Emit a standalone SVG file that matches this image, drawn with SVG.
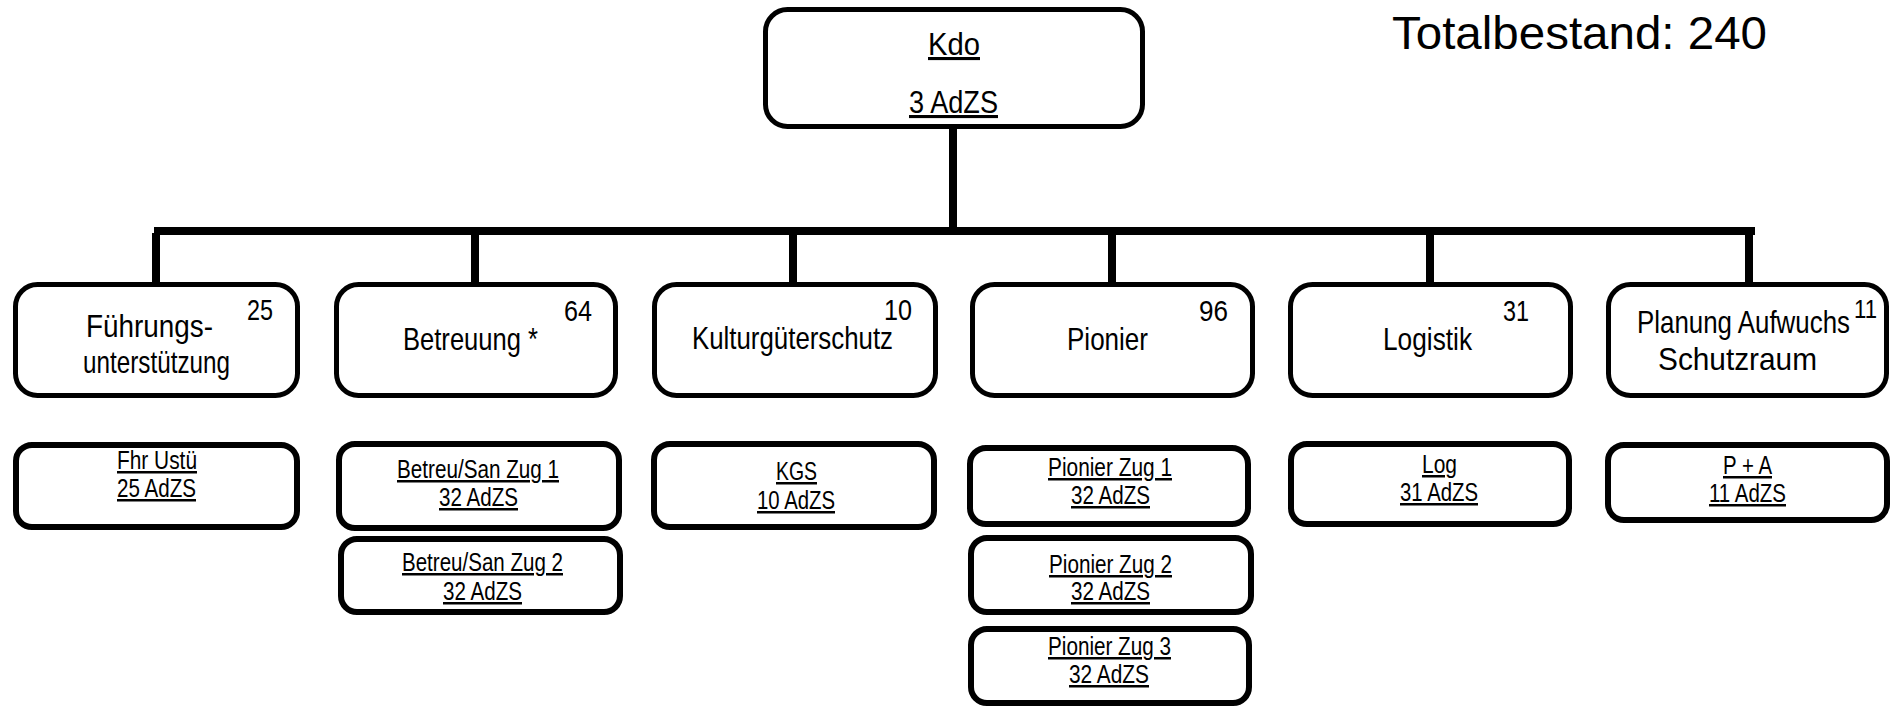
<svg xmlns="http://www.w3.org/2000/svg" width="1894" height="708" viewBox="0 0 1894 708">
<style>
.top{fill:#fff;stroke:#000;stroke-width:5}
.sub{fill:#fff;stroke:#000;stroke-width:6}
text{font-family:"Liberation Sans",Arial,sans-serif;fill:#000}
.t{font-size:32px;text-anchor:middle}
.n{font-size:30px}
.s{font-size:25px;text-anchor:middle;text-decoration:underline}
.k{font-size:31px;text-anchor:middle;text-decoration:underline}
</style>
<rect width="1894" height="708" fill="#fff"/>
<g id="connectors" fill="#000">
<rect x="949" y="128" width="8" height="101"/>
<rect x="154" y="227" width="1601" height="8"/>
<rect x="152" y="233" width="8" height="51"/>
<rect x="471" y="233" width="8" height="51"/>
<rect x="789" y="233" width="8" height="51"/>
<rect x="1108" y="233" width="8" height="51"/>
<rect x="1426" y="233" width="8" height="51"/>
<rect x="1745" y="233" width="8" height="51"/>
</g>
<g id="kdo">
<rect class="top" x="765.5" y="9.5" width="377" height="117" rx="22"/>
<text class="k" x="954" y="55" textLength="52" lengthAdjust="spacingAndGlyphs">Kdo</text>
<text class="k" x="953.5" y="113" textLength="89" lengthAdjust="spacingAndGlyphs">3 AdZS</text>
</g>
<g id="total">
<text x="1392" y="49" font-size="47" textLength="375" lengthAdjust="spacingAndGlyphs">Totalbestand: 240</text>
</g>
<g id="fue">
<rect class="top" x="15.5" y="284.5" width="282" height="111" rx="22"/>
<text class="t" x="149.5" y="337" textLength="127" lengthAdjust="spacingAndGlyphs">Führungs-</text>
<text class="t" x="156.5" y="373" textLength="147" lengthAdjust="spacingAndGlyphs">unterstützung</text>
<text class="n" x="247" y="320" textLength="26" lengthAdjust="spacingAndGlyphs">25</text>
</g>
<g id="betr">
<rect class="top" x="336.5" y="284.5" width="279" height="111" rx="22"/>
<text class="t" x="470.5" y="350" textLength="135" lengthAdjust="spacingAndGlyphs">Betreuung *</text>
<text class="n" x="564" y="321" textLength="28" lengthAdjust="spacingAndGlyphs">64</text>
</g>
<g id="kgs">
<rect class="top" x="654.5" y="284.5" width="281" height="111" rx="22"/>
<text class="t" x="792.5" y="349" textLength="201" lengthAdjust="spacingAndGlyphs">Kulturgüterschutz</text>
<text class="n" x="884" y="320" textLength="28" lengthAdjust="spacingAndGlyphs">10</text>
</g>
<g id="pio">
<rect class="top" x="972.5" y="284.5" width="280" height="111" rx="22"/>
<text class="t" x="1107.5" y="350" textLength="81" lengthAdjust="spacingAndGlyphs">Pionier</text>
<text class="n" x="1199" y="321" textLength="29" lengthAdjust="spacingAndGlyphs">96</text>
</g>
<g id="log">
<rect class="top" x="1290.5" y="284.5" width="280" height="111" rx="22"/>
<text class="t" x="1427.5" y="350" textLength="89" lengthAdjust="spacingAndGlyphs">Logistik</text>
<text class="n" x="1503" y="321" textLength="26" lengthAdjust="spacingAndGlyphs">31</text>
</g>
<g id="plan">
<rect class="top" x="1608.5" y="284.5" width="278" height="111" rx="22"/>
<text class="t" x="1743.5" y="333" textLength="213" lengthAdjust="spacingAndGlyphs">Planung Aufwuchs</text>
<text class="t" x="1737.5" y="370" textLength="159" lengthAdjust="spacingAndGlyphs">Schutzraum</text>
<text x="1854" y="318" font-size="26" textLength="23" lengthAdjust="spacingAndGlyphs">11</text>
</g>
<g id="fhrustue">
<rect class="sub" x="16" y="445" width="281" height="82" rx="16"/>
<text class="s" x="157" y="469" textLength="80" lengthAdjust="spacingAndGlyphs">Fhr Ustü</text>
<text class="s" x="156.5" y="497" textLength="79" lengthAdjust="spacingAndGlyphs">25 AdZS</text>
</g>
<g id="betreu1">
<rect class="sub" x="339" y="444" width="280" height="84" rx="16"/>
<text class="s" x="478" y="478" textLength="162" lengthAdjust="spacingAndGlyphs">Betreu/San Zug 1</text>
<text class="s" x="478.5" y="506" textLength="79" lengthAdjust="spacingAndGlyphs">32 AdZS</text>
</g>
<g id="betreu2">
<rect class="sub" x="341" y="539" width="279" height="73" rx="16"/>
<text class="s" x="482.5" y="571" textLength="161" lengthAdjust="spacingAndGlyphs">Betreu/San Zug 2</text>
<text class="s" x="482.5" y="600" textLength="79" lengthAdjust="spacingAndGlyphs">32 AdZS</text>
</g>
<g id="kgsz">
<rect class="sub" x="654" y="444" width="280" height="83" rx="16"/>
<text class="s" x="796.5" y="480" textLength="41" lengthAdjust="spacingAndGlyphs">KGS</text>
<text class="s" x="796" y="509" textLength="78" lengthAdjust="spacingAndGlyphs">10 AdZS</text>
</g>
<g id="pio1">
<rect class="sub" x="970" y="448" width="278" height="76" rx="16"/>
<text class="s" x="1110" y="476" textLength="124" lengthAdjust="spacingAndGlyphs">Pionier Zug 1</text>
<text class="s" x="1110.5" y="504" textLength="79" lengthAdjust="spacingAndGlyphs">32 AdZS</text>
</g>
<g id="pio2">
<rect class="sub" x="971" y="538" width="280" height="74" rx="16"/>
<text class="s" x="1110.5" y="573" textLength="123" lengthAdjust="spacingAndGlyphs">Pionier Zug 2</text>
<text class="s" x="1110.5" y="600" textLength="79" lengthAdjust="spacingAndGlyphs">32 AdZS</text>
</g>
<g id="pio3">
<rect class="sub" x="971" y="629" width="278" height="74" rx="16"/>
<text class="s" x="1109.5" y="655" textLength="123" lengthAdjust="spacingAndGlyphs">Pionier Zug 3</text>
<text class="s" x="1109" y="683" textLength="80" lengthAdjust="spacingAndGlyphs">32 AdZS</text>
</g>
<g id="logz">
<rect class="sub" x="1291" y="444" width="278" height="80" rx="16"/>
<text class="s" x="1439.5" y="473" textLength="35" lengthAdjust="spacingAndGlyphs">Log</text>
<text class="s" x="1439" y="501" textLength="78" lengthAdjust="spacingAndGlyphs">31 AdZS</text>
</g>
<g id="pa">
<rect class="sub" x="1608" y="445" width="279" height="75" rx="16"/>
<text class="s" x="1747.5" y="474" textLength="49" lengthAdjust="spacingAndGlyphs">P + A</text>
<text class="s" x="1747.5" y="502" textLength="77" lengthAdjust="spacingAndGlyphs">11 AdZS</text>
</g>
</svg>
